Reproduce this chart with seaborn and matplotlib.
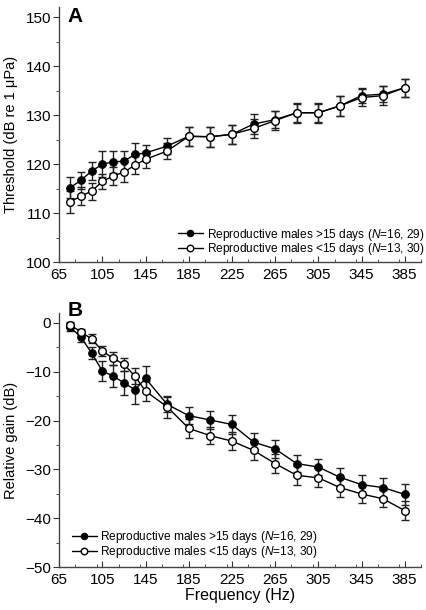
import matplotlib
matplotlib.use("Agg")
import matplotlib.pyplot as plt
from matplotlib.ticker import MultipleLocator
import numpy as np
import pandas as pd
import seaborn as sns

sns.set_style("ticks", {'text.color': 'black', 'axes.labelcolor': 'black',
                        'xtick.color': '#333333', 'ytick.color': '#333333'})
plt.rcParams['font.family'] = ['Liberation Sans', 'DejaVu Sans']
plt.rcParams['mathtext.fontset'] = 'custom'
plt.rcParams['mathtext.rm'] = 'Liberation Sans'
plt.rcParams['mathtext.it'] = 'Liberation Sans:italic'

# Frequencies (Hz)
freq = [75, 85, 95, 105, 115, 125, 135, 145, 165, 185, 205, 225, 245, 265,
        285, 305, 325, 345, 365, 385]

# Panel A: thresholds (dB re 1 uPa)
thr_old = [115.2, 116.7, 118.6, 120.0, 120.5, 120.6, 122.0, 122.3, 123.7, 125.7,
           125.6, 126.1, 128.2, 129.1, 130.5, 130.5, 131.9, 134.0, 134.3, 135.6]
thr_old_se = [2.1, 1.8, 1.9, 2.6, 2.2, 2.1, 2.4, 1.7, 1.7, 1.9,
              2.0, 1.9, 2.1, 1.7, 2.0, 2.0, 2.0, 1.6, 1.7, 1.8]
thr_new = [112.3, 113.5, 114.5, 116.5, 117.6, 118.4, 119.8, 121.0, 122.7, 125.7,
           125.6, 126.1, 127.3, 128.9, 130.5, 130.5, 131.9, 133.6, 134.0, 135.6]
thr_new_se = [2.3, 1.8, 1.7, 1.6, 1.9, 2.0, 1.8, 1.8, 1.7, 1.9,
              2.0, 2.0, 2.0, 1.9, 1.8, 1.8, 2.0, 1.8, 2.0, 1.8]

# Panel B: relative gain (dB)
gain_old = [-0.9, -2.9, -6.2, -9.9, -10.9, -12.3, -13.7, -11.4, -16.7, -19.0,
            -19.9, -20.8, -24.4, -25.8, -28.8, -29.5, -31.6, -33.1, -33.7, -35.1]
gain_old_se = [0.8, 1.0, 1.3, 2.0, 2.2, 2.5, 2.9, 2.6, 1.5, 1.8,
               1.9, 2.0, 1.8, 1.9, 1.8, 1.7, 1.8, 1.9, 1.9, 2.1]
gain_new = [-0.4, -1.9, -3.3, -5.8, -7.3, -8.5, -10.9, -14.0, -17.2, -21.6,
            -23.1, -24.2, -26.1, -28.8, -31.2, -31.7, -33.7, -35.0, -36.0, -38.4]
gain_new_se = [0.6, 0.7, 0.9, 1.1, 1.3, 1.3, 1.7, 2.0, 2.2, 1.9,
               1.7, 1.8, 2.0, 2.0, 1.9, 1.9, 1.9, 1.9, 1.7, 1.9]

lab_old = r'Reproductive males >15 days ($\it{N}$=16, 29)'
lab_new = r'Reproductive males <15 days ($\it{N}$=13, 30)'

fig = plt.figure(figsize=(4.26, 6.10), dpi=100)
axA = fig.add_axes([0.139, 0.570, 0.849, 0.418])
axB = fig.add_axes([0.139, 0.070, 0.849, 0.417])


def draw(ax, y_old, se_old, y_new, se_new):
    df = pd.DataFrame({'freq': freq, 'old': y_old, 'new': y_new})
    ax.errorbar(df['freq'], df['old'], yerr=se_old, fmt='none', ecolor='#222222',
                elinewidth=1, capsize=3, capthick=1, zorder=1)
    ax.errorbar(df['freq'], df['new'], yerr=se_new, fmt='none', ecolor='#222222',
                elinewidth=1, capsize=3, capthick=1, zorder=1)
    sns.lineplot(data=df, x='freq', y='old', ax=ax, color='black', lw=1,
                 marker='o', markersize=5.5, markerfacecolor='black',
                 markeredgecolor='black', label=lab_old, zorder=3)
    sns.lineplot(data=df, x='freq', y='new', ax=ax, color='black', lw=1,
                 marker='o', markersize=5.5, markerfacecolor='white',
                 markeredgecolor='black', markeredgewidth=1, label=lab_new, zorder=4)
    ax.set_xlim(65, 400)
    ax.set_xticks(np.arange(65, 386, 40))
    ax.xaxis.set_minor_locator(MultipleLocator(20))
    ax.yaxis.set_minor_locator(MultipleLocator(5))
    ax.tick_params(axis='x', which='both', direction='in', labelsize=11, pad=4,
                   labelcolor='black')
    ax.tick_params(axis='x', which='major', length=4)
    ax.tick_params(axis='x', which='minor', length=2.5)
    ax.tick_params(axis='y', which='major', direction='out', length=4, labelsize=11,
                   pad=2, labelcolor='black')
    ax.tick_params(axis='y', which='minor', direction='out', length=2.5)
    for s in ['left', 'bottom']:
        ax.spines[s].set_linewidth(1)
        ax.spines[s].set_color('#444444')
    sns.despine(ax=ax)


leg_kw = dict(frameon=False, fontsize=8.6, handlelength=2.1, handletextpad=0.3,
              labelspacing=-0.1, borderaxespad=0, borderpad=0, markerscale=0.85)

draw(axA, thr_old, thr_old_se, thr_new, thr_new_se)
axA.set_ylim(100, 152)
axA.set_yticks(np.arange(100, 151, 10))
axA.set_xlabel('')
axA.set_ylabel('Threshold (dB re 1 μPa)', fontsize=10.5, labelpad=5)
axA.text(0.024, 1.0, 'A', transform=axA.transAxes, fontsize=15,
         fontweight='bold', va='top', ha='left', color='black')
axA.legend(loc='upper left', bbox_to_anchor=(0.328, 0.14), **leg_kw)

draw(axB, gain_old, gain_old_se, gain_new, gain_new_se)
axB.set_ylim(-50, 2)
axB.set_yticks(np.arange(-50, 1, 10))
axB.set_yticklabels(['\u221250', '\u221240', '\u221230', '\u221220', '\u221210', '0'])
axB.set_xlabel('Frequency (Hz)', fontsize=11.5, labelpad=1)
axB.set_ylabel('Relative gain (dB)', fontsize=10.5, labelpad=5)
axB.text(0.024, 1.045, 'B', transform=axB.transAxes, fontsize=15,
         fontweight='bold', va='top', ha='left', color='black')
axB.legend(loc='upper left', bbox_to_anchor=(0.034, 0.15), **leg_kw)

fig.savefig('out.png', dpi=100)
